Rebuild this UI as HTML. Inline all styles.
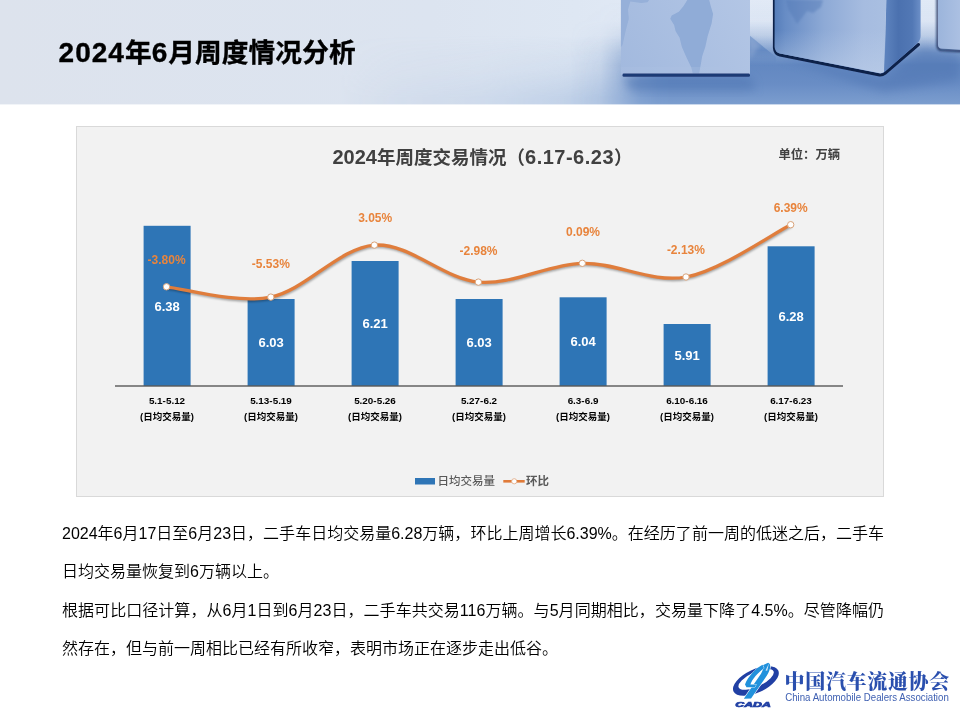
<!DOCTYPE html>
<html lang="zh-CN">
<head>
<meta charset="utf-8">
<title>2024年6月周度情况分析</title>
<style>
html,body{margin:0;padding:0;background:#fff;}
body{width:960px;height:720px;position:relative;overflow:hidden;font-family:"Liberation Sans","Noto Sans CJK SC",sans-serif;color:#000;}
#banner{position:absolute;left:0;top:0;width:960px;height:105px;display:block;}
#title{position:absolute;left:58.6px;top:35px;font-size:26.67px;line-height:36px;font-weight:bold;white-space:nowrap;letter-spacing:0.12px;-webkit-text-stroke:0.35px #000;}
#chart{position:absolute;left:76px;top:126px;width:808px;height:371px;display:block;}
#chart text{font-family:"Liberation Sans","Noto Sans CJK SC",sans-serif;}
#title .d{font-size:28px;letter-spacing:1px;}
.ln{position:absolute;left:62px;width:822px;font-size:16px;line-height:24px;white-space:nowrap;font-weight:350;color:#000;}
.j{text-align:justify;text-align-last:justify;white-space:normal;}
#logo{position:absolute;left:728px;top:655px;width:232px;height:65px;display:block;}
</style>
</head>
<body>
<svg id="banner" viewBox="0 0 960 105">
<defs>
<linearGradient id="bg" x1="0" x2="960" y1="0" y2="0" gradientUnits="userSpaceOnUse">
<stop offset="0" stop-color="#dde3ed"/>
<stop offset="0.45" stop-color="#dce4f0"/>
<stop offset="0.6" stop-color="#dee7f3"/>
<stop offset="0.7" stop-color="#e2eaf6"/>
<stop offset="1" stop-color="#e0e9f6"/>
</linearGradient>
<linearGradient id="flv" x1="0" x2="0" y1="0" y2="105" gradientUnits="userSpaceOnUse">
<stop offset="0" stop-color="#6a8ec5" stop-opacity="0"/>
<stop offset="0.2" stop-color="#6a8ec5" stop-opacity="0.04"/>
<stop offset="0.34" stop-color="#6a8ec5" stop-opacity="0.3"/>
<stop offset="0.5" stop-color="#668bc3" stop-opacity="0.8"/>
<stop offset="0.62" stop-color="#6388c1" stop-opacity="1"/>
<stop offset="0.8" stop-color="#698dc5" stop-opacity="1"/>
<stop offset="1" stop-color="#7c9ecf" stop-opacity="1"/>
</linearGradient>
<linearGradient id="flh" x1="570" x2="670" y1="0" y2="0" gradientUnits="userSpaceOnUse">
<stop offset="0" stop-color="#fff" stop-opacity="0"/>
<stop offset="0.3" stop-color="#fff" stop-opacity="0.1"/>
<stop offset="0.5" stop-color="#fff" stop-opacity="0.42"/>
<stop offset="0.7" stop-color="#fff" stop-opacity="0.82"/>
<stop offset="0.88" stop-color="#fff" stop-opacity="0.97"/>
<stop offset="1" stop-color="#fff" stop-opacity="1"/>
</linearGradient>
<mask id="flm"><rect x="0" y="0" width="960" height="105" fill="url(#flh)"/></mask>
<linearGradient id="flv2" x1="0" x2="0" y1="35" y2="105" gradientUnits="userSpaceOnUse">
<stop offset="0" stop-color="#7c9ecf" stop-opacity="0"/>
<stop offset="0.5" stop-color="#7c9ecf" stop-opacity="0.4"/>
<stop offset="0.9" stop-color="#7c9ecf" stop-opacity="1"/>
<stop offset="1" stop-color="#7c9ecf" stop-opacity="1"/>
</linearGradient>
<linearGradient id="flh2" x1="340" x2="640" y1="0" y2="0" gradientUnits="userSpaceOnUse">
<stop offset="0" stop-color="#fff" stop-opacity="0"/>
<stop offset="0.2" stop-color="#fff" stop-opacity="0.08"/>
<stop offset="0.47" stop-color="#fff" stop-opacity="0.14"/>
<stop offset="0.73" stop-color="#fff" stop-opacity="0.27"/>
<stop offset="0.87" stop-color="#fff" stop-opacity="0.4"/>
<stop offset="1" stop-color="#fff" stop-opacity="0.5"/>
</linearGradient>
<mask id="flm2"><rect x="0" y="0" width="960" height="105" fill="url(#flh2)"/></mask>
<linearGradient id="wedge" x1="0" x2="0" y1="35" y2="66" gradientUnits="userSpaceOnUse">
<stop offset="0" stop-color="#7f9fcf" stop-opacity="0.9"/><stop offset="0.5" stop-color="#6388c1" stop-opacity="0.9"/><stop offset="1" stop-color="#6388c1" stop-opacity="0"/>
</linearGradient>
<linearGradient id="c1" x1="621" x2="750" y1="75" y2="0" gradientUnits="userSpaceOnUse">
<stop offset="0" stop-color="#a2b9de"/><stop offset="1" stop-color="#b3c6e5"/>
</linearGradient>
<linearGradient id="c2" x1="774" x2="886" y1="0" y2="0" gradientUnits="userSpaceOnUse">
<stop offset="0" stop-color="#557db9"/><stop offset="0.1" stop-color="#678cc5"/><stop offset="0.45" stop-color="#8eaad6"/><stop offset="0.8" stop-color="#a6bce0"/><stop offset="1" stop-color="#a9bfe1"/>
</linearGradient>
<linearGradient id="c2v" x1="0" x2="0" y1="30" y2="75" gradientUnits="userSpaceOnUse">
<stop offset="0" stop-color="#c0d1ea" stop-opacity="0"/><stop offset="1" stop-color="#c0d1ea" stop-opacity="0.55"/>
</linearGradient>
<linearGradient id="c2s" x1="886" x2="921" y1="0" y2="0" gradientUnits="userSpaceOnUse">
<stop offset="0" stop-color="#5c82bd"/><stop offset="0.35" stop-color="#4b71af"/><stop offset="0.75" stop-color="#5278b5"/><stop offset="1" stop-color="#6d90c8"/>
</linearGradient>
<linearGradient id="c3" x1="937" x2="960" y1="0" y2="0" gradientUnits="userSpaceOnUse">
<stop offset="0" stop-color="#9bb4db"/><stop offset="1" stop-color="#abc0e2"/>
</linearGradient>
<filter id="b2" x="-20%" y="-50%" width="140%" height="200%"><feGaussianBlur stdDeviation="2"/></filter>
<filter id="b5" x="-20%" y="-50%" width="140%" height="200%"><feGaussianBlur stdDeviation="5"/></filter>
<filter id="b1a" x="-20%" y="-50%" width="140%" height="200%"><feGaussianBlur stdDeviation="1.1"/></filter>
<filter id="b1" x="-20%" y="-50%" width="140%" height="200%"><feGaussianBlur stdDeviation="0.7"/></filter>
</defs>
<rect width="960" height="105" fill="url(#bg)"/>
<rect width="960" height="105" fill="url(#flv2)" mask="url(#flm2)"/>
<rect width="960" height="105" fill="url(#flv)" mask="url(#flm)"/>
<!-- shadow wedge from cube1 in the gap -->
<polygon points="749,35 776,57 776,66 749,66" fill="url(#wedge)" filter="url(#b1)"/>
<polygon points="749,36 760,45 749,60" fill="#8fa9d3" opacity="0.6" filter="url(#b2)"/>
<!-- shadows -->
<polygon points="624,77 750,77 756,90 630,90" fill="#4e74b1" opacity="0.55" filter="url(#b5)"/>
<polygon points="776,56 884,78 922,46 960,54 960,80 884,92" fill="#4a70ae" opacity="0.45" filter="url(#b5)"/>
<!-- cube 1 -->
<rect x="621" y="-2" width="129" height="77" fill="url(#c1)"/>
<polygon points="687.3,0.0 683.4,6.2 678.8,11.7 671.7,15.6 670.2,18.8 674.1,25.0 675.6,31.2 679.5,37.5 681.9,46.9 686.6,57.8 691.2,67.2 692.8,73.4 699.1,73.4 700.6,65.6 702.2,56.2 705.3,46.9 707.7,35.9 711.6,23.4 713.1,14.1 710.8,6.2 709.2,0.0" fill="#90acd7" filter="url(#b1)"/>
<polygon points="620.9,0.0 649.1,0.0 647.5,2.3 641.2,3.1 630.3,1.6 628.0,9.4 628.8,18.8 625.6,31.2 622.5,45.3 620.9,46.9" fill="#96b0d9" filter="url(#b1)"/>
<rect x="621" y="67" width="129" height="7" fill="#afc4e5" opacity="0.25"/>
<rect x="622.5" y="73.6" width="127.5" height="3.2" rx="1.4" fill="#1f3b74" filter="url(#b1)"/>
<!-- cube 2 -->
<path d="M774.4,-2 L774.4,48 Q774.8,54 780,55 L878.5,74.8 Q882,75.6 885,73.4 L918.5,44.5" fill="none" stroke="#10204a" stroke-width="3" stroke-linecap="round" filter="url(#b1)"/>
<path d="M774.6,-2 L774.6,47 Q775,52.5 780,53.5 L879,73 Q882,73.6 884,72 L886.4,-2 Z" fill="url(#c2)"/>
<path d="M774.6,-2 L774.6,47 Q775,52.5 780,53.5 L879,73 Q882,73.6 884,72 L886.4,-2 Z" fill="url(#c2v)"/>
<polygon points="786,0 823,0 821,7 813,13 807,11 801,19 797,24 793,17 788,9" fill="#5379b6" opacity="0.45" filter="url(#b1a)"/>
<path d="M886.4,-2 L884.5,72 L917,43.5 Q920.6,40 920.6,36 L920.6,-2 Z" fill="url(#c2s)"/>
<!-- cube 3 -->
<path d="M937.6,-2 L937.6,46 Q938,49.6 941,50 L962,51.2" fill="none" stroke="#1b2f5c" stroke-width="2.2" filter="url(#b1a)"/>
<path d="M938,-2 L938,45 Q938.4,48.3 941,48.6 L962,49.8 L962,-2 Z" fill="url(#c3)"/>
<rect x="0" y="104.4" width="960" height="1" fill="#fff"/>
</svg>
<div id="title"><span class="d">2024</span>年<span class="d">6</span>月周度情况分析</div>

<svg id="chart" viewBox="0 0 808 371">
<defs><filter id="sh" x="-5%" y="-30%" width="110%" height="160%"><feGaussianBlur stdDeviation="1.2"/></filter></defs>
<rect x="0.5" y="0.5" width="807" height="370" fill="#f2f2f2" stroke="#d9d9d9"/>
<rect x="67.6" y="99.8" width="47" height="160.2" fill="#2e75b6"/>
<rect x="171.6" y="173" width="47" height="87" fill="#2e75b6"/>
<rect x="275.6" y="135" width="47" height="125" fill="#2e75b6"/>
<rect x="379.6" y="173" width="47" height="87" fill="#2e75b6"/>
<rect x="483.6" y="171.3" width="47" height="88.7" fill="#2e75b6"/>
<rect x="587.6" y="198" width="47" height="62" fill="#2e75b6"/>
<rect x="691.6" y="120.3" width="47" height="139.7" fill="#2e75b6"/>
<rect x="39" y="259.3" width="728" height="1.4" fill="#595959"/>
<text x="91.1" y="184.6" text-anchor="middle" font-size="13" font-weight="bold" fill="#fff">6.38</text>
<text x="195.1" y="221.2" text-anchor="middle" font-size="13" font-weight="bold" fill="#fff">6.03</text>
<text x="299.1" y="202.2" text-anchor="middle" font-size="13" font-weight="bold" fill="#fff">6.21</text>
<text x="403.1" y="221.2" text-anchor="middle" font-size="13" font-weight="bold" fill="#fff">6.03</text>
<text x="507.1" y="220.3" text-anchor="middle" font-size="13" font-weight="bold" fill="#fff">6.04</text>
<text x="611.1" y="233.7" text-anchor="middle" font-size="13" font-weight="bold" fill="#fff">5.91</text>
<text x="715.1" y="194.8" text-anchor="middle" font-size="13" font-weight="bold" fill="#fff">6.28</text>
<path d="M90.5 160.8 C107.9 162.5 160.2 178.1 194.8 171.1 C229.5 164.2 263.8 121.6 298.4 119.1 C333 116.6 367.8 153.1 402.4 156.1 C437 159.1 471.7 138.2 506.3 137.3 C540.9 136.5 575.3 157.4 610 151 C644.7 144.6 697.2 107.4 714.7 98.7" fill="none" stroke="#000" stroke-opacity="0.35" stroke-width="3" transform="translate(0.5 1.5)" filter="url(#sh)"/>
<path d="M90.5 160.8 C107.9 162.5 160.2 178.1 194.8 171.1 C229.5 164.2 263.8 121.6 298.4 119.1 C333 116.6 367.8 153.1 402.4 156.1 C437 159.1 471.7 138.2 506.3 137.3 C540.9 136.5 575.3 157.4 610 151 C644.7 144.6 697.2 107.4 714.7 98.7" fill="none" stroke="#e07d3c" stroke-width="3.3" stroke-linecap="round"/>
<circle cx="90.5" cy="160.8" r="3.2" fill="#fff" stroke="#d9a37a" stroke-width="1"/>
<circle cx="194.8" cy="171.1" r="3.2" fill="#fff" stroke="#d9a37a" stroke-width="1"/>
<circle cx="298.4" cy="119.1" r="3.2" fill="#fff" stroke="#d9a37a" stroke-width="1"/>
<circle cx="402.4" cy="156.1" r="3.2" fill="#fff" stroke="#d9a37a" stroke-width="1"/>
<circle cx="506.3" cy="137.3" r="3.2" fill="#fff" stroke="#d9a37a" stroke-width="1"/>
<circle cx="610" cy="151" r="3.2" fill="#fff" stroke="#d9a37a" stroke-width="1"/>
<circle cx="714.7" cy="98.7" r="3.2" fill="#fff" stroke="#d9a37a" stroke-width="1"/>
<text x="90.6" y="137.9" text-anchor="middle" font-size="12" font-weight="bold" fill="#e8843c">-3.80%</text>
<text x="194.8" y="141.9" text-anchor="middle" font-size="12" font-weight="bold" fill="#e8843c">-5.53%</text>
<text x="299.2" y="95.7" text-anchor="middle" font-size="12" font-weight="bold" fill="#e8843c">3.05%</text>
<text x="402.5" y="129.2" text-anchor="middle" font-size="12" font-weight="bold" fill="#e8843c">-2.98%</text>
<text x="507" y="109.6" text-anchor="middle" font-size="12" font-weight="bold" fill="#e8843c">0.09%</text>
<text x="609.9" y="127.6" text-anchor="middle" font-size="12" font-weight="bold" fill="#e8843c">-2.13%</text>
<text x="714.7" y="86" text-anchor="middle" font-size="12" font-weight="bold" fill="#e8843c">6.39%</text>
<text x="91" y="278.3" text-anchor="middle" font-size="9.9" font-weight="bold" fill="#000">5.1-5.12</text>
<text x="91" y="294" text-anchor="middle" font-size="9.5" font-weight="bold" fill="#000">(日均交易量)</text>
<text x="195" y="278.3" text-anchor="middle" font-size="9.9" font-weight="bold" fill="#000">5.13-5.19</text>
<text x="195" y="294" text-anchor="middle" font-size="9.5" font-weight="bold" fill="#000">(日均交易量)</text>
<text x="299" y="278.3" text-anchor="middle" font-size="9.9" font-weight="bold" fill="#000">5.20-5.26</text>
<text x="299" y="294" text-anchor="middle" font-size="9.5" font-weight="bold" fill="#000">(日均交易量)</text>
<text x="403" y="278.3" text-anchor="middle" font-size="9.9" font-weight="bold" fill="#000">5.27-6.2</text>
<text x="403" y="294" text-anchor="middle" font-size="9.5" font-weight="bold" fill="#000">(日均交易量)</text>
<text x="507" y="278.3" text-anchor="middle" font-size="9.9" font-weight="bold" fill="#000">6.3-6.9</text>
<text x="507" y="294" text-anchor="middle" font-size="9.5" font-weight="bold" fill="#000">(日均交易量)</text>
<text x="611" y="278.3" text-anchor="middle" font-size="9.9" font-weight="bold" fill="#000">6.10-6.16</text>
<text x="611" y="294" text-anchor="middle" font-size="9.5" font-weight="bold" fill="#000">(日均交易量)</text>
<text x="715" y="278.3" text-anchor="middle" font-size="9.9" font-weight="bold" fill="#000">6.17-6.23</text>
<text x="715" y="294" text-anchor="middle" font-size="9.5" font-weight="bold" fill="#000">(日均交易量)</text>
<text x="256.5" y="38.3" font-size="18.5" font-weight="bold" fill="#404040"><tspan font-size="20">2024</tspan>年周度交易情况（<tspan font-size="20" letter-spacing="0.5">6.17-6.23</tspan>）</text>
<text x="702.5" y="32.5" font-size="12.3" font-weight="bold" fill="#404040">单位：万辆</text>
<rect x="339" y="352" width="20" height="6.5" fill="#2e75b6"/>
<text x="361.5" y="359.2" font-size="11.5" font-weight="500" fill="#595959">日均交易量</text>
<rect x="427.3" y="354" width="21.4" height="2.6" fill="#e07b39"/>
<circle cx="438.2" cy="355.3" r="2.6" fill="#fff" stroke="#e0a57c" stroke-width="0.8"/>
<text x="450" y="359.2" font-size="11.5" font-weight="bold" fill="#595959">环比</text>
</svg>

<div class="ln j" style="top:521.5px">2024年6月17日至6月23日，二手车日均交易量6.28万辆，环比上周增长6.39%。在经历了前一周的低迷之后，二手车</div>
<div class="ln" style="top:559.5px">日均交易量恢复到6万辆以上。</div>
<div class="ln j" style="top:598.5px">根据可比口径计算，从6月1日到6月23日，二手车共交易116万辆。与5月同期相比，交易量下降了4.5%。尽管降幅仍</div>
<div class="ln" style="top:636.5px">然存在，但与前一周相比已经有所收窄，表明市场正在逐步走出低谷。</div>

<svg id="logo" viewBox="0 0 232 65">
<g transform="rotate(-25 27.9 26)">
<path fill-rule="evenodd" fill="#2140a4" d="M3.2 26 a24.7 11.6 0 1 0 49.4 0 a24.7 11.6 0 1 0 -49.4 0 Z M9.6 24.6 a19.2 7.2 0 1 1 38.4 0 a19.2 7.2 0 1 1 -38.4 0 Z"/>
</g>
<path d="M40.1 7.8 C43.5 8.8 42.6 14.4 38.9 20.6 L23.0 43.5 L15.8 43.8 L33.0 18.8 C35.5 14.0 36.4 11.0 34.2 10.5 Z" fill="#2191dc" stroke="#fff" stroke-width="1.2" paint-order="stroke"/>
<path d="M34.5 9.8 C28.2 13.1 20.1 21.2 17.0 29.4 L18.5 32.2 L26.8 32.2 L28.2 29.5 L22.4 29.5 C24.2 24.0 29.8 17.8 36.0 13.2 Z" fill="#2191dc" stroke="#fff" stroke-width="0.8" paint-order="stroke"/>
<path d="M41 8.2 L37.5 15.5 L39.2 15.8 Z" fill="#fff" opacity="0.8"/>
<text x="7.3" y="51.6" font-family="'Liberation Sans',sans-serif" font-size="7.6" font-weight="bold" font-style="italic" fill="#2140a4" stroke="#2140a4" stroke-width="0.7" textLength="35.5" lengthAdjust="spacingAndGlyphs">CADA</text>
<text x="56.6" y="33.6" font-family="'Liberation Serif','Noto Serif CJK SC',serif" font-size="20" font-weight="900" fill="#2a4fae" textLength="164.6" lengthAdjust="spacing">中国汽车流通协会</text>
<text x="57.2" y="45.7" font-family="'Liberation Sans',sans-serif" font-size="10.4" fill="#3f60b2" textLength="163.6" lengthAdjust="spacingAndGlyphs">China Automobile Dealers Association</text>
</svg>
</body>
</html>
